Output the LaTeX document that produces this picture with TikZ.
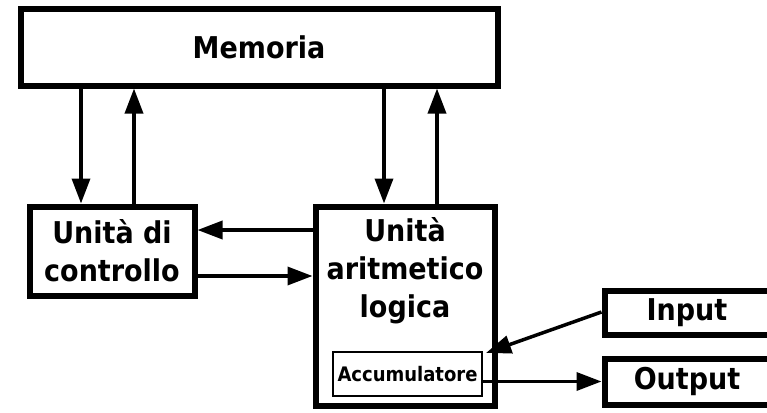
\documentclass[tikz,border=0pt]{standalone}
\usepackage{fontspec}
\setmainfont{DejaVu Sans Condensed}
\usetikzlibrary{arrows.meta,calc}
\tikzset{
  bigfont/.style={font=\bfseries\fontsize{30}{38}\selectfont},
  bigbox/.style={draw, line width=6pt, fill=white, inner sep=0pt, align=center, bigfont},
  accbox/.style={draw, line width=2.2pt, inner sep=0pt, align=center,
    font=\bfseries\fontsize{20}{24}\selectfont},
  arr/.style={line width=3.5pt, -{Triangle[length=25pt,width=18pt]}}
}
\begin{document}
\begin{tikzpicture}[x=1pt,y=-1pt]
\useasboundingbox (0,0) rectangle (767,412);
\fill[white] (0,0) rectangle (767,412);
% boxes
\node[bigbox, minimum width=477pt, minimum height=76pt] (mem) at (259,47.5) {Memoria};
\node[bigbox, minimum width=165pt, minimum height=89pt] (cu) at (112,251) {Unità di\\controllo};
\node[bigbox, minimum width=179pt, minimum height=199pt] (alu) at (405,306) {};
\node[bigfont, align=center] (alut) at (405,271) {Unità\\aritmetico\\logica};
\node[accbox, minimum width=149pt, minimum height=44pt] (acc) at (407.5,374) {Accumulatore};
\node[bigbox, minimum width=165pt, minimum height=44pt] (in) at (687,312.5) {Input};
\node[bigbox, minimum width=165pt, minimum height=46pt] (out) at (687,381.5) {Output};
% memory <-> control unit
\draw[arr] ([xshift=-31pt]cu.north |- mem.south) -- ([xshift=-31pt]cu.north);
\draw[arr] ([xshift=22pt]cu.north) -- ([xshift=22pt]cu.north |- mem.south);
% memory <-> ALU
\draw[arr] ([xshift=-21pt]alu.north |- mem.south) -- ([xshift=-21pt]alu.north);
\draw[arr] ([xshift=32pt]alu.north) -- ([xshift=32pt]alu.north |- mem.south);
% control <-> ALU
\draw[arr] ([yshift=21pt]cu.east -| alu.west) -- ([yshift=21pt]cu.east);
\draw[arr] ([yshift=-25pt]cu.east) -- ([yshift=-25pt]cu.east -| alu.west);
% input / output
\draw[arr] ([yshift=0.5pt]in.west) -- ([xshift=3pt,yshift=-2pt]acc.north east);
\draw[arr] (acc.east |- out.west) -- (out.west);
\end{tikzpicture}
\end{document}
